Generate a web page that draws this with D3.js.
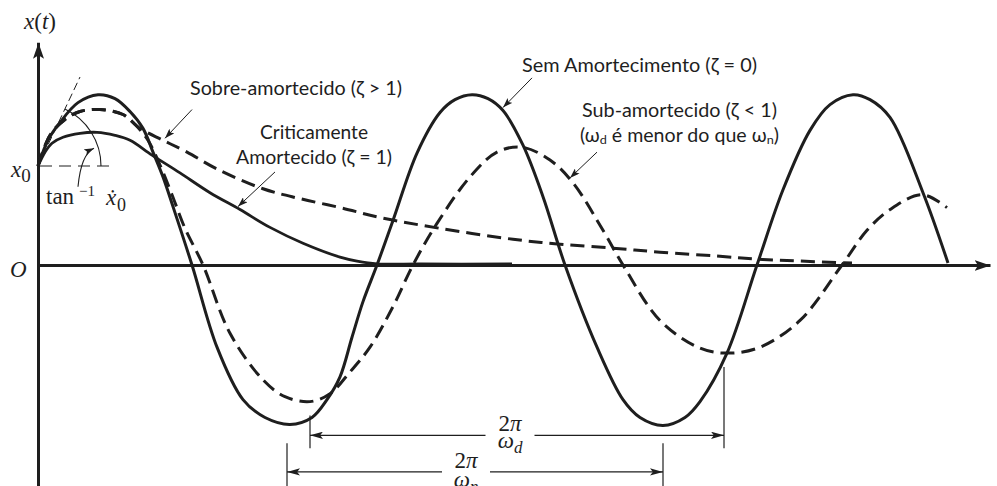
<!DOCTYPE html>
<html>
<head>
<meta charset="utf-8">
<script src="https://cdn.jsdelivr.net/npm/d3@7"></script>
<style>
  html, body { margin: 0; padding: 0; background: #fff; }
  svg { display: block; }
</style>
</head>
<body>
<svg id="chart" width="997" height="486"></svg>
<script>
// ---- Response samples x(t), read as (t, x) pairs; x is scaled so that x0 = 1 ----

// No damping (zeta = 0)
const tUndamped = [0, 0.10, 0.22, 0.40, 0.60, 0.77, 0.92, 1.05, 1.15, 1.25, 1.35, 1.54, 1.79, 2.05, 2.27, 2.52,
  2.74, 2.89, 3.02, 3.14, 3.25, 3.39, 3.55, 3.79, 4.02, 4.17, 4.34, 4.50, 4.65, 4.85, 5.05, 5.27, 5.59, 5.85,
  6.02, 6.25, 6.47, 6.62, 6.89, 7.19, 7.45, 7.72, 7.92, 8.15, 8.32, 8.52, 8.85, 9.10];
const xUndamped = [1.00, 1.26, 1.44, 1.64, 1.72, 1.68, 1.55, 1.38, 1.14, 0.89, 0.59, 0, -0.83, -1.36, -1.54, -1.61,
  -1.54, -1.36, -1.13, -0.73, -0.37, 0, 0.45, 1.13, 1.54, 1.67, 1.72, 1.68, 1.56, 1.21, 0.69, 0, -0.83, -1.36,
  -1.54, -1.62, -1.54, -1.38, -0.89, 0, 0.76, 1.36, 1.62, 1.72, 1.67, 1.49, 0.73, 0.02];

// Underdamped (zeta < 1)
const tUnder = [0, 0.12, 0.27, 0.42, 0.62, 0.85, 0.97, 1.10, 1.22, 1.34, 1.47, 1.65, 1.92, 2.25, 2.47, 2.72,
  2.92, 3.12, 3.32, 3.55, 3.75, 3.99, 4.32, 4.59, 4.84, 5.12, 5.35, 5.65, 5.85, 6.22, 6.62, 6.90,
  7.22, 7.62, 8.04, 8.29, 8.52, 8.84, 9.09];
const xUnder = [1.00, 1.31, 1.47, 1.55, 1.57, 1.52, 1.42, 1.26, 1.01, 0.71, 0.37, 0, -0.69, -1.16, -1.33, -1.38,
  -1.30, -1.08, -0.83, -0.42, 0, 0.42, 0.89, 1.14, 1.19, 1.06, 0.83, 0.35, 0, -0.56, -0.84, -0.89,
  -0.83, -0.56, 0, 0.35, 0.56, 0.71, 0.58];

// Overdamped (zeta > 1)
const tOver = [0, 0.12, 0.27, 0.42, 0.62, 0.85, 1.02, 1.25, 1.49, 1.79, 2.25, 2.62, 3.02, 3.42, 4.02, 4.75,
  5.22, 5.75, 6.22, 6.79, 7.19, 7.62, 8.14];
const xOver = [1.00, 1.31, 1.47, 1.55, 1.57, 1.52, 1.38, 1.26, 1.14, 0.97, 0.77, 0.67, 0.58, 0.48, 0.37, 0.26,
  0.21, 0.17, 0.13, 0.09, 0.06, 0.04, 0.02];

// Critically damped (zeta = 1)
const tCritical = [0, 0.07, 0.14, 0.25, 0.42, 0.59, 0.77, 0.92, 1.14, 1.42, 1.72, 2.02, 2.32, 2.65, 3.02,
  3.19, 3.39, 3.82, 4.74];
const xCritical = [1.00, 1.14, 1.23, 1.29, 1.33, 1.34, 1.31, 1.26, 1.11, 0.93, 0.73, 0.56, 0.38, 0.22, 0.08,
  0.04, 0.012, 0.01, 0.01];

// Initial slope (x0 dot) used for the tangent at t = 0
const initialSlope = 2.14;

// Periods marked below the axis: [start, end] times of 2pi/omega_d and 2pi/omega_n
const periodDamped = [2.72, 6.86];
const periodNatural = [2.49, 6.25];

// ---- Scales ----
const svg = d3.select('#chart');
const x = d3.scaleLinear().domain([0, 9.5]).range([38, 988]);
const y = d3.scaleLinear().domain([0, 1]).range([265, 166]);

const ink = '#1e1e1e';
const mathFont = "'Liberation Serif', 'DejaVu Serif', serif";
const sansFont = "Lato, 'Noto Sans', 'DejaVu Sans', sans-serif";

const defs = svg.append('defs');
function arrowMarker(id, len, half) {
  defs.append('marker')
    .attr('id', id)
    .attr('viewBox', `0 ${-half} ${len} ${2 * half}`)
    .attr('refX', len).attr('refY', 0)
    .attr('markerWidth', len).attr('markerHeight', 2 * half)
    .attr('markerUnits', 'userSpaceOnUse')
    .attr('orient', 'auto-start-reverse')
    .append('path')
    .attr('d', `M0,${-half}L${len},0L0,${half}L${len * 0.22},0Z`)
    .attr('fill', ink);
}
arrowMarker('arrSmall', 10, 3.4);
arrowMarker('arrDim', 13, 3.6);
arrowMarker('arrAxis', 16, 5.5);

// ---- Axes (no ticks, arrow at the far ends) ----
const xAxisScale = d3.scaleLinear().domain([0, 9.52]).range([x(0), x(9.52)]);
const yAxisScale = d3.scaleLinear().domain([-2.3, 2.25]).range([y(-2.3), y(2.25)]);

const gx = svg.append('g').attr('transform', `translate(0,${y(0)})`)
  .call(d3.axisBottom(xAxisScale).tickValues([]).tickSizeOuter(0));
gx.select('.domain').attr('stroke', ink).attr('stroke-width', 3).attr('marker-end', 'url(#arrAxis)');

const gy = svg.append('g').attr('transform', `translate(${x(0)},0)`)
  .call(d3.axisLeft(yAxisScale).tickValues([]).tickSizeOuter(0));
gy.select('.domain').attr('stroke', ink).attr('stroke-width', 3).attr('marker-end', 'url(#arrAxis)');

// ---- Curves ----
const line = d3.line()
  .x(d => x(d[0]))
  .y(d => y(d[1]))
  .curve(d3.curveCatmullRom.alpha(0.5));
const pairs = (ts, xs) => ts.map((t, i) => [t, xs[i]]);

const series = [
  { t: tCritical, v: xCritical, dash: null, w: 2.8 },
  { t: tOver, v: xOver, dash: '14,7', w: 3 },
  { t: tUnder, v: xUnder, dash: '14,7', w: 3 },
  { t: tUndamped, v: xUndamped, dash: null, w: 3 }
];
svg.append('g').selectAll('path').data(series).join('path')
  .attr('d', s => line(pairs(s.t, s.v)))
  .attr('fill', 'none')
  .attr('stroke', ink)
  .attr('stroke-width', s => s.w)
  .attr('stroke-dasharray', s => s.dash)
  .attr('stroke-linejoin', 'round');

// ---- Initial conditions: x0 reference line, tangent and angle ----
const g0 = svg.append('g');
g0.append('line')
  .attr('x1', x(0.02)).attr('y1', y(1)).attr('x2', x(0.72)).attr('y2', y(1))
  .attr('stroke', ink).attr('stroke-width', 1.2).attr('stroke-dasharray', '12,7');

const tanEnd = 0.42;
g0.append('line')
  .attr('x1', x(0)).attr('y1', y(1))
  .attr('x2', x(tanEnd)).attr('y2', y(1 + initialSlope * tanEnd))
  .attr('stroke', ink).attr('stroke-width', 1).attr('stroke-dasharray', '8,4');

const cx = x(0), cy = y(1), r = 63;
const ang = Math.atan2(y(1) - y(1 + initialSlope), x(1) - x(0));
g0.append('path')
  .attr('d', `M${cx + r * Math.cos(ang)},${cy - r * Math.sin(ang)} A${r},${r} 0 0 1 ${cx + r},${cy}`)
  .attr('fill', 'none').attr('stroke', ink).attr('stroke-width', 1.1);

// curved pointer from the angle label to the arc
g0.append('path')
  .attr('d', `M${x(0.40)},${y(0.79)} Q${x(0.43)},${y(1.12)} ${x(0.56)},${y(1.18)}`)
  .attr('fill', 'none').attr('stroke', ink).attr('stroke-width', 1.1)
  .attr('marker-end', 'url(#arrSmall)');

// ---- Pointer arrows to each curve ----
const pointers = [
  [[1.54, 1.57], [1.27, 1.28]],
  [[2.37, 0.94], [2.00, 0.59]],
  [[4.94, 1.89], [4.65, 1.59]],
  [[5.59, 1.14], [5.32, 0.88]]
];
svg.append('g').selectAll('line').data(pointers).join('line')
  .attr('x1', d => x(d[0][0])).attr('y1', d => y(d[0][1]))
  .attr('x2', d => x(d[1][0])).attr('y2', d => y(d[1][1]))
  .attr('stroke', ink).attr('stroke-width', 1)
  .attr('marker-end', 'url(#arrSmall)');

// ---- Period dimension lines ----
function dimension(span, level, ticks, labelCenter, halfGap) {
  const g = svg.append('g');
  ticks.forEach((tk, i) => {
    g.append('line')
      .attr('x1', x(span[i])).attr('x2', x(span[i]))
      .attr('y1', y(tk[0])).attr('y2', y(tk[1]))
      .attr('stroke', ink).attr('stroke-width', 1.2);
  });
  g.append('line')
    .attr('x1', x(labelCenter - halfGap)).attr('y1', y(level))
    .attr('x2', x(span[0])).attr('y2', y(level))
    .attr('stroke', ink).attr('stroke-width', 1.2).attr('marker-end', 'url(#arrDim)');
  g.append('line')
    .attr('x1', x(labelCenter + halfGap)).attr('y1', y(level))
    .attr('x2', x(span[1])).attr('y2', y(level))
    .attr('stroke', ink).attr('stroke-width', 1.2).attr('marker-end', 'url(#arrDim)');
  return g;
}
const dimD = dimension(periodDamped, -1.72, [[-1.52, -1.85], [-1.03, -1.85]], 4.72, 0.245);
const dimN = dimension(periodNatural, -2.09, [[-1.80, -2.3], [-1.80, -2.3]], 4.28, 0.24);

function fraction(g, cxT, topBase, botBase, sub) {
  const num = g.append('text').attr('x', x(cxT)).attr('y', topBase)
    .attr('text-anchor', 'middle').attr('font-family', mathFont).attr('font-size', 23).attr('fill', ink);
  num.append('tspan').text('2');
  num.append('tspan').attr('font-style', 'italic').text('π');
  const den = g.append('text').attr('x', x(cxT)).attr('y', botBase)
    .attr('text-anchor', 'middle').attr('font-family', mathFont).attr('font-size', 23).attr('fill', ink);
  den.append('tspan').attr('font-style', 'italic').text('ω');
  den.append('tspan').attr('font-style', 'italic').attr('font-size', 17).attr('dy', 5).text(sub);
}
fraction(dimD, 4.72, 431, 448, 'd');
fraction(dimN, 4.28, 468, 487, 'n');

// ---- Axis and math labels ----
const tl = svg.append('g').attr('font-family', mathFont).attr('fill', ink);
const xt = tl.append('text').attr('x', 24).attr('y', 29).attr('font-size', 23);
xt.append('tspan').attr('font-style', 'italic').text('x');
xt.append('tspan').text('(');
xt.append('tspan').attr('font-style', 'italic').text('t');
xt.append('tspan').text(')');

const x0 = tl.append('text').attr('x', 11).attr('y', 177).attr('font-size', 23);
x0.append('tspan').attr('font-style', 'italic').text('x');
x0.append('tspan').attr('font-size', 19).attr('dy', 5).text('0');

tl.append('text').attr('x', 10).attr('y', 277).attr('font-size', 23)
  .attr('font-style', 'italic').text('O');

const tn = tl.append('text').attr('font-size', 23);
tn.append('tspan').attr('x', 46).attr('y', 204).text('tan');
tn.append('tspan').attr('x', 79).attr('y', 196).attr('font-size', 15).text('−1');
tn.append('tspan').attr('x', 106).attr('y', 205).attr('font-style', 'italic').text('ẋ');
tn.append('tspan').attr('x', 117).attr('y', 211).attr('font-size', 18).text('0');

// ---- Curve descriptions ----
const labels = [
  { text: 'Sobre-amortecido (ζ > 1)', x: 190, y: 95, w: 212 },
  { text: 'Criticamente', x: 260, y: 139, w: 108 },
  { text: 'Amortecido (ζ = 1)', x: 236, y: 164, w: 156 },
  { text: 'Sem Amortecimento (ζ = 0)', x: 522, y: 72, w: 235 },
  { text: 'Sub-amortecido (ζ < 1)', x: 582, y: 117, w: 195 }
];
svg.append('g').selectAll('text').data(labels).join('text')
  .attr('x', d => d.x).attr('y', d => d.y)
  .attr('font-family', sansFont).attr('font-size', 18.5).attr('fill', ink)
  .attr('textLength', d => d.w).attr('lengthAdjust', 'spacingAndGlyphs')
  .text(d => d.text);

const wl = svg.append('text').attr('x', 580).attr('y', 142)
  .attr('font-family', sansFont).attr('font-size', 18.5).attr('fill', ink)
  .attr('textLength', 199).attr('lengthAdjust', 'spacingAndGlyphs');
wl.append('tspan').text('(ω');
wl.append('tspan').attr('font-size', 12).attr('dy', 2).text('d');
wl.append('tspan').attr('dy', -2).text(' é menor do que ω');
wl.append('tspan').attr('font-size', 12).attr('dy', 2).text('n');
wl.append('tspan').attr('dy', -2).text(')');
</script>
</body>
</html>
